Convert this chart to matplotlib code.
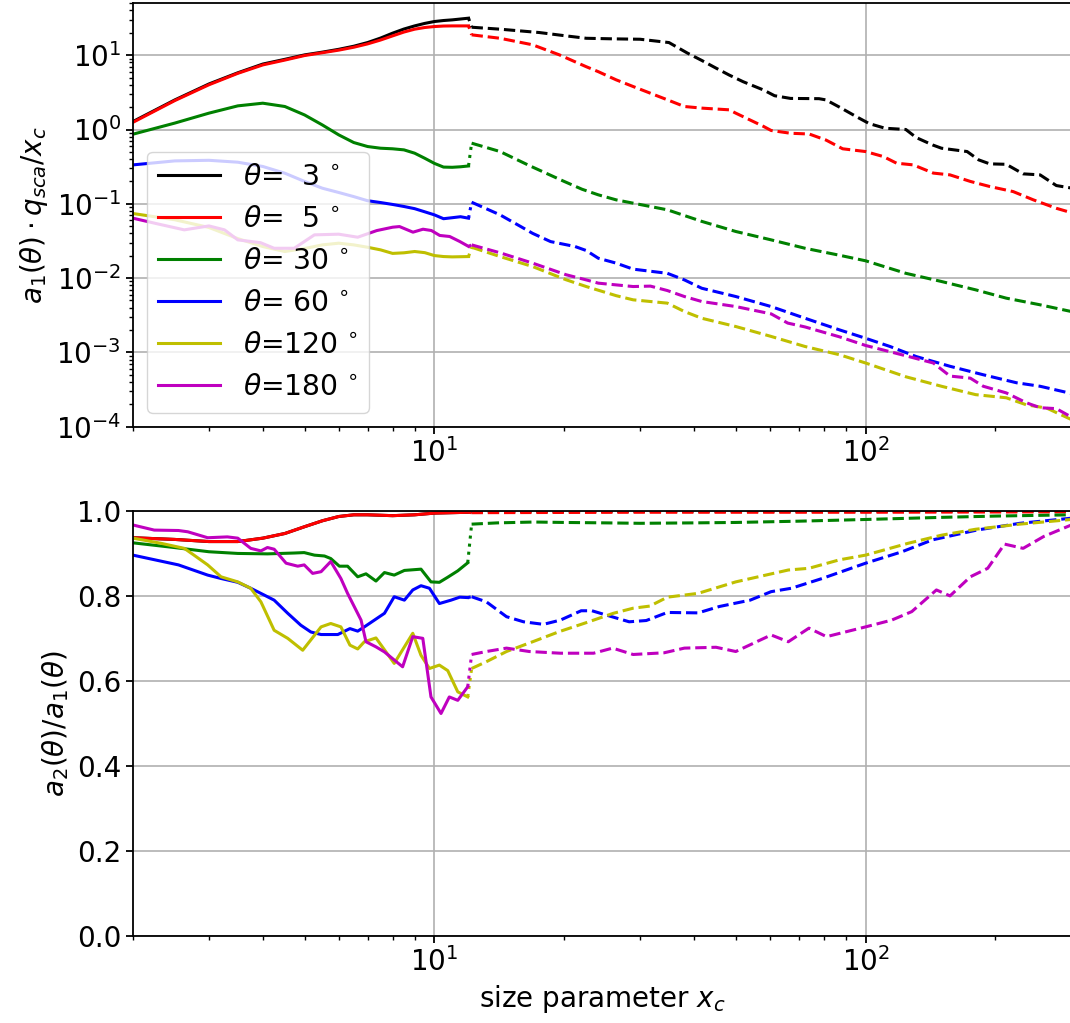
import numpy as np
from matplotlib import pyplot as plt

# angles and line colours
thetas = [3, 5, 30, 60, 120, 180]
colors = ['k', 'r', 'g', 'b', 'y', 'm']

# ---- top panel: a1*qsca/xc, solid part (x <= 12) ----
xs_top = [2.0, 2.5, 3.0, 3.5, 4.0, 4.5, 5.0, 5.5, 6.0, 6.5, 7.0, 7.5, 8.0, 8.5, 9.0, 9.5, 10.0, 10.5, 11.0, 11.5, 12.0]
top_s_3 = [1.28, 2.5, 4.1, 5.8, 7.6, 8.8, 10.1, 11.0, 12.0, 13.2, 14.8, 17.0, 19.8, 22.5, 24.8, 26.8, 28.4, 29.3, 29.9, 30.7, 31.5]
top_s_5 = [1.25, 2.45, 4.0, 5.7, 7.4, 8.6, 9.9, 10.8, 11.7, 12.8, 14.2, 16.0, 18.2, 20.5, 22.4, 23.6, 24.3, 24.7, 24.8, 24.8, 24.8]
top_s_30 = [0.865, 1.22, 1.66, 2.08, 2.26, 2.04, 1.57, 1.15, 0.847, 0.668, 0.59, 0.56, 0.55, 0.532, 0.48, 0.41, 0.35, 0.312, 0.31, 0.315, 0.323]
top_s_60 = [0.334, 0.378, 0.385, 0.363, 0.318, 0.258, 0.2, 0.162, 0.142, 0.125, 0.11, 0.104, 0.098, 0.092, 0.086, 0.078, 0.071, 0.063, 0.065, 0.067, 0.064]
top_s_120 = [0.074, 0.061, 0.048, 0.034, 0.0266, 0.0228, 0.025, 0.028, 0.0295, 0.028, 0.026, 0.024, 0.0215, 0.0219, 0.0228, 0.022, 0.0201, 0.0195, 0.0193, 0.0194, 0.0195]
x_top_s_180 = [2.0, 2.28, 2.63, 3.0, 3.26, 3.5, 3.95, 4.25, 4.73, 5.27, 6.0, 6.64, 7.35, 8.0, 8.3, 8.92, 9.41, 9.84, 10.29, 10.85, 11.45, 12.0]
top_s_180 = [0.064, 0.0537, 0.0446, 0.0504, 0.0446, 0.0327, 0.030, 0.0252, 0.0252, 0.0382, 0.039, 0.0355, 0.0436, 0.0484, 0.0494, 0.0415, 0.0455, 0.0437, 0.0375, 0.0363, 0.0311, 0.0267]

# ---- top panel, dashed part (x > 12) ----
x_top_d_3 = [12.2, 14.2, 17.5, 20.2, 22.5, 26, 30, 35, 38.6, 41.7, 45, 48.3, 52, 58, 61.5, 67, 78, 81, 87, 96, 102, 111, 124, 131, 143, 150, 172, 183, 194, 212, 232, 254, 277, 300]
top_d_3 = [23.8, 22.4, 20.2, 18.2, 16.9, 16.6, 16.4, 14.8, 10.7, 8.5, 6.7, 5.4, 4.4, 3.4, 2.85, 2.62, 2.6, 2.5, 2.0, 1.45, 1.2, 1.04, 1.0, 0.78, 0.62, 0.56, 0.505, 0.39, 0.345, 0.34, 0.253, 0.245, 0.176, 0.163]
x_top_d_5 = [12.2, 14.2, 16.9, 19.5, 22.5, 24, 26.4, 28.9, 34.7, 38, 41.7, 48.3, 50, 58, 60.4, 67, 74, 81, 88.5, 100, 110, 118, 129, 143.6, 157, 175, 194, 220, 245, 277, 300]
top_d_5 = [18.8, 16.9, 13.8, 10.1, 7.0, 6.0, 4.66, 3.79, 2.51, 2.04, 1.94, 1.84, 1.66, 1.1, 0.97, 0.89, 0.87, 0.72, 0.55, 0.505, 0.432, 0.352, 0.334, 0.259, 0.245, 0.2, 0.171, 0.146, 0.113, 0.087, 0.076]
x_top_d_30 = [12.2, 14.2, 16.6, 20, 22, 24, 26.4, 28.9, 34.7, 41.7, 50, 60.4, 72.4, 87, 100, 124, 150, 180, 212, 254, 300]
top_d_30 = [0.655, 0.505, 0.327, 0.2, 0.157, 0.132, 0.113, 0.102, 0.083, 0.058, 0.0424, 0.0327, 0.0252, 0.0203, 0.0171, 0.0116, 0.009, 0.00695, 0.00537, 0.00437, 0.00355]
x_top_d_60 = [12.2, 14.2, 15.9, 16.9, 18.6, 21.2, 22.5, 24, 26.4, 28.9, 34.7, 38, 41.7, 50, 60.4, 72.4, 87, 100, 114, 131, 157, 187.5, 224, 254, 300]
top_d_60 = [0.105, 0.071, 0.049, 0.040, 0.031, 0.0266, 0.0235, 0.0185, 0.0159, 0.0132, 0.0116, 0.00946, 0.0073, 0.00565, 0.00414, 0.00288, 0.00201, 0.00155, 0.0012, 0.00088, 0.00065, 0.0005, 0.00039, 0.00035, 0.00028]
x_top_d_120 = [12.2, 14.2, 16.9, 20.2, 22.5, 26.4, 28.9, 34.7, 38, 41.7, 50, 60.4, 72.4, 87, 100, 124, 150, 180, 212, 236, 263, 300]
top_d_120 = [0.026, 0.0195, 0.0143, 0.0095, 0.0077, 0.0058, 0.0051, 0.0046, 0.00355, 0.00288, 0.00223, 0.00164, 0.0012, 0.00093, 0.00072, 0.00047, 0.00035, 0.00027, 0.000245, 0.000197, 0.000178, 0.000125]
x_top_d_180 = [12.2, 14.2, 16.9, 20.2, 22.5, 24, 28.9, 31.7, 34.7, 38, 41.7, 50, 60.4, 66, 72.4, 87, 100, 124, 143.6, 157, 175, 187.5, 212, 236, 254, 277, 300]
top_d_180 = [0.028, 0.0219, 0.0159, 0.0111, 0.00946, 0.00855, 0.0077, 0.0078, 0.0068, 0.00565, 0.00484, 0.00414, 0.0033, 0.00248, 0.0022, 0.00162, 0.00124, 0.0009, 0.00072, 0.00048, 0.00045, 0.00035, 0.000285, 0.00021, 0.00018, 0.000175, 0.000135]

# ---- bottom panel: a2/a1, solid part ----
x_bot_s_5 = [2.0, 2.5, 3.0, 3.5, 4.0, 4.5, 5.0, 5.5, 6.0, 6.5, 7.0, 8.0, 9.0, 10.0, 12.0]
bot_s_5 = [0.937, 0.933, 0.928, 0.928, 0.936, 0.947, 0.963, 0.977, 0.987, 0.991, 0.991, 0.989, 0.991, 0.995, 0.997]
bot_s_3 = [0.937, 0.933, 0.928, 0.928, 0.936, 0.947, 0.963, 0.977, 0.987, 0.991, 0.991, 0.989, 0.991, 0.995, 0.997]
x_bot_s_30 = [2.0, 2.49, 3.0, 3.5, 4.1, 4.73, 4.99, 5.27, 5.56, 5.75, 6.02, 6.29, 6.64, 6.94, 7.32, 7.66, 8.07, 8.52, 9.31, 9.82, 10.27, 10.74, 11.33, 11.95]
bot_s_30 = [0.925, 0.914, 0.904, 0.900, 0.899, 0.901, 0.902, 0.896, 0.894, 0.888, 0.870, 0.870, 0.845, 0.852, 0.835, 0.855, 0.849, 0.860, 0.863, 0.833, 0.832, 0.844, 0.859, 0.878]
x_bot_s_60 = [2.0, 2.55, 2.98, 3.2, 3.5, 3.75, 4.03, 4.25, 4.57, 4.9, 5.17, 5.46, 5.97, 6.37, 6.64, 6.88, 7.26, 7.66, 8.07, 8.52, 8.91, 9.31, 9.74, 10.27, 10.93, 11.45, 11.95]
bot_s_60 = [0.896, 0.873, 0.849, 0.841, 0.832, 0.818, 0.802, 0.790, 0.759, 0.731, 0.715, 0.709, 0.709, 0.723, 0.717, 0.727, 0.743, 0.759, 0.798, 0.790, 0.814, 0.824, 0.818, 0.782, 0.790, 0.797, 0.796]
x_bot_s_120 = [2.0, 2.32, 2.63, 2.77, 2.98, 3.2, 3.5, 3.75, 3.96, 4.25, 4.57, 4.95, 5.46, 5.75, 6.07, 6.37, 6.64, 6.88, 7.32, 8.07, 8.91, 9.31, 9.74, 10.27, 10.74, 11.33, 11.95]
bot_s_120 = [0.936, 0.924, 0.912, 0.896, 0.873, 0.845, 0.833, 0.818, 0.786, 0.719, 0.700, 0.672, 0.727, 0.735, 0.727, 0.684, 0.675, 0.692, 0.701, 0.641, 0.712, 0.660, 0.629, 0.637, 0.624, 0.574, 0.562]
x_bot_s_180 = [2.0, 2.24, 2.55, 2.68, 2.98, 3.31, 3.5, 3.75, 3.96, 4.1, 4.25, 4.53, 4.82, 4.99, 5.22, 5.46, 5.75, 6.07, 6.29, 6.76, 6.94, 7.32, 7.66, 8.07, 8.44, 8.91, 9.4, 9.82, 10.36, 10.83, 11.33, 11.95]
bot_s_180 = [0.967, 0.955, 0.954, 0.951, 0.937, 0.939, 0.936, 0.912, 0.906, 0.914, 0.910, 0.877, 0.870, 0.873, 0.853, 0.857, 0.881, 0.841, 0.806, 0.743, 0.692, 0.680, 0.668, 0.649, 0.633, 0.704, 0.700, 0.562, 0.523, 0.562, 0.554, 0.586]

# ---- bottom panel, dashed part ----
x_bot_d_3 = [12.2, 30, 100, 300]
bot_d_3 = [0.998, 0.999, 0.9995, 0.9998]
x_bot_d_5 = [12.2, 30, 100, 300]
bot_d_5 = [0.996, 0.997, 0.997, 0.998]
x_bot_d_30 = [12.2, 14, 17, 20, 25, 30, 40, 50, 70, 100, 150, 200, 300]
bot_d_30 = [0.969, 0.972, 0.974, 0.973, 0.972, 0.971, 0.972, 0.973, 0.976, 0.980, 0.985, 0.988, 0.991]
x_bot_d_60 = [12.2, 13.2, 14.7, 16.1, 17.9, 19.6, 21.9, 23.2, 25.4, 28.3, 31.0, 34.7, 40.9, 45.8, 54, 60.4, 67.3, 79.3, 100, 121.5, 143, 181, 228, 300]
bot_d_60 = [0.798, 0.786, 0.751, 0.739, 0.733, 0.743, 0.765, 0.765, 0.753, 0.739, 0.742, 0.761, 0.760, 0.775, 0.790, 0.810, 0.818, 0.841, 0.877, 0.904, 0.932, 0.955, 0.971, 0.983]
x_bot_d_120 = [12.2, 13.2, 14.7, 16.9, 19.5, 22.5, 26, 28.9, 31.6, 34.7, 40.9, 50, 66.2, 73.9, 87, 100, 125.6, 150, 180, 228, 300]
bot_d_120 = [0.629, 0.645, 0.669, 0.692, 0.716, 0.737, 0.759, 0.771, 0.776, 0.797, 0.806, 0.833, 0.861, 0.865, 0.885, 0.896, 0.924, 0.943, 0.957, 0.969, 0.980]
x_bot_d_180 = [12.2, 13.2, 14.7, 16.6, 19.6, 23.4, 25.9, 28.9, 34.1, 38, 45, 50, 60.4, 66.2, 73.9, 81.2, 100, 115, 128, 146, 157, 175, 192, 210, 232, 259, 300]
bot_d_180 = [0.662, 0.669, 0.677, 0.669, 0.665, 0.665, 0.677, 0.662, 0.666, 0.677, 0.679, 0.669, 0.708, 0.692, 0.724, 0.704, 0.727, 0.743, 0.763, 0.814, 0.800, 0.845, 0.865, 0.922, 0.912, 0.940, 0.967]

top_solid = [(xs_top, top_s_3), (xs_top, top_s_5), (xs_top, top_s_30), (xs_top, top_s_60),
             (xs_top, top_s_120), (x_top_s_180, top_s_180)]
top_dash = [(x_top_d_3, top_d_3), (x_top_d_5, top_d_5), (x_top_d_30, top_d_30), (x_top_d_60, top_d_60),
            (x_top_d_120, top_d_120), (x_top_d_180, top_d_180)]
bot_solid = [(x_bot_s_5, bot_s_3), (x_bot_s_5, bot_s_5), (x_bot_s_30, bot_s_30), (x_bot_s_60, bot_s_60),
             (x_bot_s_120, bot_s_120), (x_bot_s_180, bot_s_180)]
bot_dash = [(x_bot_d_3, bot_d_3), (x_bot_d_5, bot_d_5), (x_bot_d_30, bot_d_30), (x_bot_d_60, bot_d_60),
            (x_bot_d_120, bot_d_120), (x_bot_d_180, bot_d_180)]

plt.rcParams['font.size'] = 20
lw = 2.2

fig = plt.figure(figsize=(10.7, 10.23), dpi=100)
ax1 = fig.add_axes([0.1243, 0.5829, 0.8769, 0.4139])
ax2 = fig.add_axes([0.1243, 0.0855, 0.8769, 0.4150])


def draw(ax, solid, dash):
    for t, c, (xs, ys), (xd, yd) in zip(thetas, colors, solid, dash):
        ax.plot(xs, ys, '-', color=c, lw=lw, label=r'$\theta$=%3d$\,^\circ$' % t)
        ax.plot([xs[-1], xd[0]], [ys[-1], yd[0]], ':', color=c, lw=lw)
        ax.plot(xd, yd, '--', color=c, lw=lw)
    ax.set_xscale('log')
    ax.set_xlim(2, 300)
    ax.grid(True, color='#b0b0b0', lw=1.2)
    ax.tick_params(which='major', length=5, width=1.3, labelsize=20)
    ax.tick_params(which='minor', length=3, width=1.0)
    for s in ax.spines.values():
        s.set_linewidth(1.3)


draw(ax1, top_solid, top_dash)
ax1.set_yscale('log')
ax1.set_ylim(1e-4, 50)
ax1.set_ylabel(r'$a_1(\theta)\cdot q_{sca}/x_c$')
ax1.legend(loc='lower left', fontsize=20.3, handlelength=2.2)

draw(ax2, bot_solid, bot_dash)
ax2.set_ylim(0, 1)
ax2.set_yticks(np.arange(0, 1.01, 0.2))
ax2.set_ylabel(r'$a_2(\theta)/a_1(\theta)$')
ax2.set_xlabel(r'size parameter $x_c$')

plt.savefig('out.png', dpi=100)
